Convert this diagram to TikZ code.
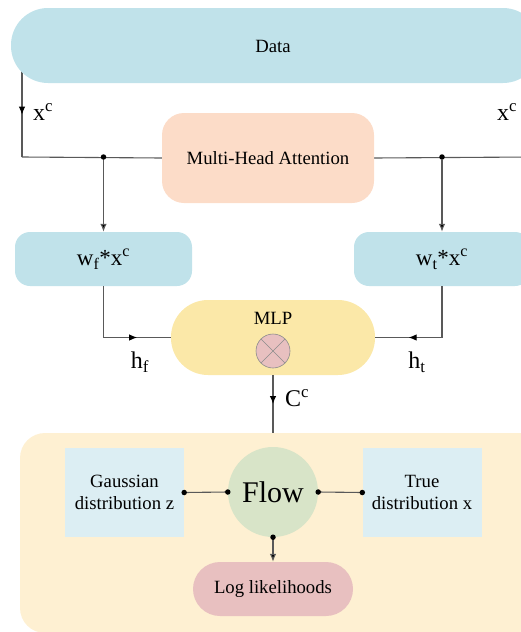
\documentclass[tikz,border=0pt]{standalone}
\usepackage{fontspec}
\setmainfont{Liberation Serif}
\usetikzlibrary{arrows.meta,decorations.markings,backgrounds}
\definecolor{dataC}{HTML}{C0E2EA}
\definecolor{mhaC}{HTML}{FCDCC8}
\definecolor{mlpC}{HTML}{FBE8A8}
\definecolor{bgC}{HTML}{FEF0D2}
\definecolor{distC}{HTML}{DCEEF3}
\definecolor{flowC}{HTML}{D8E4C8}
\definecolor{logC}{HTML}{E8C0C0}
\begin{document}
\begin{tikzpicture}[x=1pt,y=-1pt,
 box/.style={draw=none,inner sep=0pt,font=\fontsize{18.7}{22}\selectfont,align=center},
 conn/.style={draw=black!65,line width=1.1pt},
 tip/.style={-{Latex[length=8pt,width=6.5pt,fill=black]}},
 midarr/.style={postaction={decorate},decoration={markings,mark=at position #1 with {\arrow[black]{Latex[length=8pt,width=6.5pt]}}}},
 dot/.style={circle,fill=black,inner sep=0pt,minimum size=5.5pt},
 lab/.style={font=\fontsize{24}{26}\selectfont,inner sep=0pt}]
\useasboundingbox (0,0) rectangle (521,632);
\clip (0,0) rectangle (521,632);
% nodes
\node[box,fill=dataC,rounded corners=37pt,minimum width=529pt,minimum height=75pt] (data) at (275.5,45.5) {};
\node[box] (datat) at (273,46) {Data};
\node[box,fill=mhaC,rounded corners=22pt,minimum width=212pt,minimum height=90pt] (mha) at (268,158) {Multi-Head Attention};
\node[box,fill=dataC,rounded corners=15pt,minimum width=177pt,minimum height=54pt,font=\fontsize{23}{26}\selectfont] (wf) at (103.5,259) {w\textsubscript{f}*x\textsuperscript{c}};
\node[box,fill=dataC,rounded corners=15pt,minimum width=176pt,minimum height=54pt,font=\fontsize{23}{26}\selectfont] (wt) at (442,259) {w\textsubscript{t}*x\textsuperscript{c}};
\node[box,fill=mlpC,rounded corners=37pt,minimum width=204pt,minimum height=75pt] (mlp) at (273,337.5) {};
\node[box] (mlpt) at (273,318) {MLP};
\node[circle,fill=logC,draw=black!45,line width=0.6pt,minimum size=34pt,inner sep=0pt] (ot) at (273,351) {};
\draw[black!45,line width=0.6pt] (ot.north west) -- (ot.south east) (ot.north east) -- (ot.south west);
\node[box,fill=bgC,rounded corners=25pt,minimum width=525pt,minimum height=200pt] (bg) at (282.5,533) {};
\node[box,fill=distC,minimum width=119pt,minimum height=89pt] (gauss) at (124.5,492.5) {Gaussian\\distribution z};
\node[box,fill=distC,minimum width=119pt,minimum height=89pt] (true) at (422,492.5) {True\\distribution x};
\node[box,circle,fill=flowC,minimum size=90pt,font=\fontsize{30}{34}\selectfont] (flow) at (273,492) {Flow};
\node[box,fill=logC,rounded corners=27pt,minimum width=160pt,minimum height=54pt] (log) at (273,589) {Log likelihoods};
% labels
\node[lab] (lxl) at (43,112) {x\textsuperscript{c}};
\node[lab] (lxr) at (507,112) {x\textsuperscript{c}};
\node[lab] (lhf) at (140,362) {h\textsubscript{f}};
\node[lab] (lht) at (417,362) {h\textsubscript{t}};
\node[lab] (lcc) at (297,398) {C\textsuperscript{c}};
% junctions
\coordinate (jl) at (22,157);
\coordinate (jr) at (530,157);
\node[dot] (dl) at (103.5,157) {};
\node[dot] (dr) at (442,157) {};
\coordinate (cf) at (wf.south |- mlp.west);
\coordinate (cr) at (wt.south |- mlp.east);
\begin{scope}[on background layer]
\draw[conn,midarr=0.62] (jl |- data.center) -- (jl);
\draw[conn] (jl) -- (mha.west);
\draw[conn] (mha.east) -- (jr);
\end{scope}
\draw[conn,tip] (dl) -- (wf.north);
\draw[conn,tip] (dr) -- (wt.north);
\draw[conn] (wf.south) -- (cf);
\draw[conn,midarr=0.5] (cf) -- (mlp.west);
\draw[conn] (wt.south) -- (cr);
\draw[conn,midarr=0.5] (cr) -- (mlp.east);
\draw[conn,midarr=0.5] (mlp.south) -- (mlp.south |- bg.north);
\draw[conn] (gauss.east) -- (flow.west);
\draw[conn] (flow.east) -- (true.west);
\draw[conn,tip] (flow.south) -- (log.north);
\node[dot] at (gauss.east) {};
\node[dot] at (flow.west) {};
\node[dot] at (flow.east) {};
\node[dot] at (true.west) {};
\node[dot] at (flow.south) {};
\end{tikzpicture}
\end{document}
